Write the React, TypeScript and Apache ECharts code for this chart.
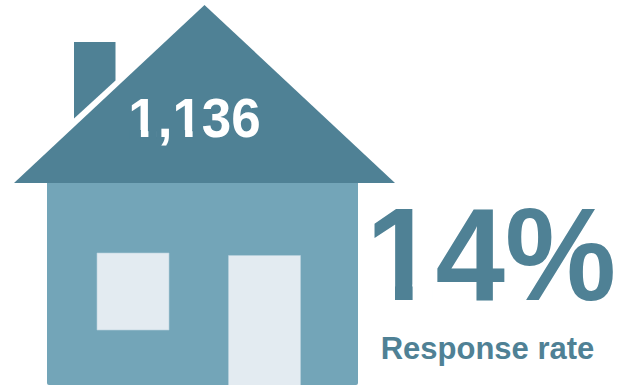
import React, { useEffect, useRef } from "react";
import * as echarts from "echarts";

const countLabels = ["1,136"];
const rateLabels = ["14%"];
const captionLabels = ["Response rate"];

const DARK = "#4f8195";
const MID = "#73a5b8";
const PALE = "#e3ebf1";
const FONT = '"Liberation Sans", Arial, sans-serif';

// Small bands laid over the foot serif of each "1", so the numeral has a plain stem.
const footBand = (x: number, y: number, width: number, height: number, fill: string) => ({
  type: "rect",
  shape: { x, y, width, height },
  style: { fill },
});

export default function App() {
  const ref = useRef<HTMLDivElement>(null);
  useEffect(() => {
    const chart = echarts.init(ref.current!, undefined, { renderer: "svg" });
    chart.setOption({
      animation: false,
      backgroundColor: "#ffffff",
      graphic: {
        elements: [
          // walls
          { type: "rect", shape: { x: 47, y: 183, width: 311, height: 202, r: [0, 0, 2, 2] }, style: { fill: MID } },
          // window and door
          { type: "rect", shape: { x: 97, y: 253, width: 72, height: 77 }, style: { fill: PALE, stroke: "#b9d2dd", lineWidth: 0.6 } },
          { type: "rect", shape: { x: 228.5, y: 255.5, width: 72, height: 130 }, style: { fill: PALE, stroke: "#b9d2dd", lineWidth: 0.6 } },
          // chimney, cut along the roof slope
          { type: "polygon", shape: { points: [[74, 42], [115.5, 42], [115.5, 80.5], [74, 118.5]] }, style: { fill: DARK } },
          // roof
          { type: "polygon", shape: { points: [[204.5, 5], [395, 183], [14, 183]] }, style: { fill: DARK } },
          {
            type: "text", x: 194.5, y: 119.5, scaleY: 1.05, originX: 0, originY: 19,
            style: { text: countLabels[0], fill: "#ffffff", font: `bold 53px ${FONT}`, textAlign: "center", textVerticalAlign: "middle" },
          },
          footBand(129.5, 130, 11.4, 9, DARK),
          footBand(148.4, 130, 8.5, 9, DARK),
          footBand(174, 130, 11.1, 9, DARK),
          footBand(192.6, 130, 8.5, 9, DARK),
          {
            type: "text", x: 491, y: 256.5, scaleY: 1.055, originX: 0, originY: 44.5,
            style: { text: rateLabels[0], fill: DARK, font: `bold 125px ${FONT}`, textAlign: "center", textVerticalAlign: "middle" },
          },
          footBand(366, 284.5, 29, 18, "#ffffff"),
          footBand(412.6, 284.5, 20, 18, "#ffffff"),
          {
            type: "text", x: 487.5, y: 348,
            style: { text: captionLabels[0], fill: DARK, font: `bold 31px ${FONT}`, textAlign: "center", textVerticalAlign: "middle" },
          },
        ],
      },
    });
    return () => chart.dispose();
  }, []);
  return <div ref={ref} style={{ position: "fixed", left: 0, top: 0, width: 618, height: 385 }} />;
}
